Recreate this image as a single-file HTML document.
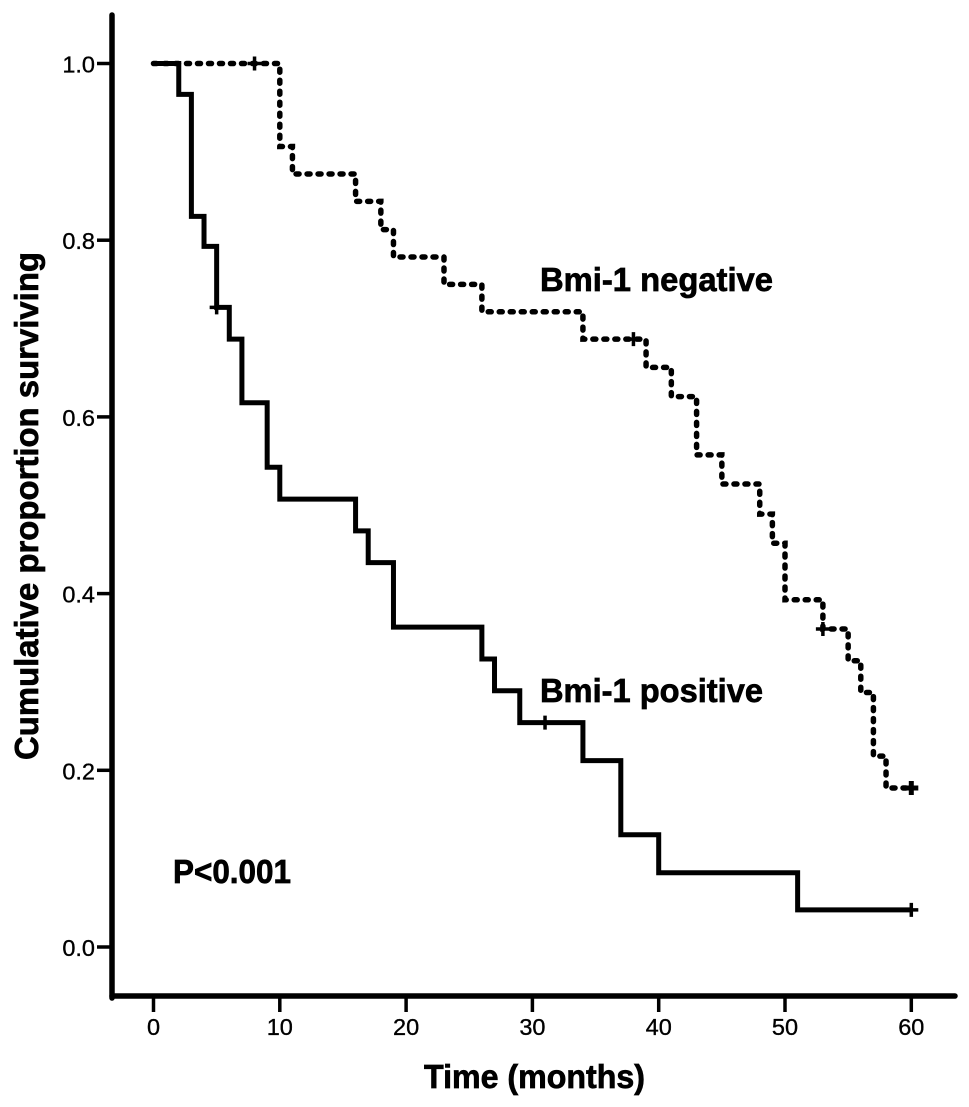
<!DOCTYPE html>
<html lang="en">
<head>
<meta charset="utf-8">
<title>Cumulative survival by Bmi-1 status</title>
<style>
html,body{margin:0;padding:0;background:#fff;}
svg{display:block;}
text{font-family:"Liberation Sans",Arial,sans-serif;fill:#000;stroke:#000;}
.tick-label{font-size:23.5px;stroke-width:0.35px;}
.title{font-size:33px;font-weight:bold;stroke-width:0.7px;}
</style>
</head>
<body>
<svg id="chart" xmlns="http://www.w3.org/2000/svg" width="969" height="1107" viewBox="0 0 969 1107"></svg>
<script>
const xTicks = [0, 10, 20, 30, 40, 50, 60];
const yTicks = [0.0, 0.2, 0.4, 0.6, 0.8, 1.0];
const yTickLabels = ['0.0', '0.2', '0.4', '0.6', '0.8', '1.0'];

const negativeTimes = [0, 10, 11, 16, 18, 19, 23, 26, 34, 39, 41, 43, 45, 48, 49, 50, 53, 55, 56, 57, 58, 60];
const negativeValues = [1.0, 0.906, 0.875, 0.844, 0.812, 0.781, 0.75, 0.719, 0.688, 0.656, 0.623, 0.557, 0.524, 0.49, 0.457, 0.393, 0.36, 0.324, 0.288, 0.216, 0.18, 0.18];
const negativeCensorTimes = [8, 38, 53, 60];
const negativeCensorValues = [1.0, 0.688, 0.36, 0.18];

const positiveTimes = [0, 2, 3, 4, 5, 6, 7, 9, 10, 16, 17, 19, 26, 27, 29, 34, 37, 40, 51, 60];
const positiveValues = [1.0, 0.965, 0.827, 0.793, 0.724, 0.688, 0.616, 0.543, 0.507, 0.471, 0.435, 0.362, 0.326, 0.29, 0.254, 0.211, 0.127, 0.084, 0.042, 0.042];
const positiveCensorTimes = [5, 31, 60];
const positiveCensorValues = [0.724, 0.254, 0.042];

const NS = 'http://www.w3.org/2000/svg';
const svg = document.getElementById('chart');
function xScale(t) { return 153.5 + t * 12.63; }
function yScale(v) { return 947 - v * 883.5; }

function make(tag, attrs, parent) {
  const el = document.createElementNS(NS, tag);
  for (const k in attrs) el.setAttribute(k, attrs[k]);
  (parent || svg).appendChild(el);
  return el;
}
function stepPath(times, values) {
  let d = 'M' + xScale(times[0]) + ' ' + yScale(values[0]);
  for (let i = 1; i < times.length; i++) {
    d += 'H' + xScale(times[i]);
    d += 'V' + yScale(values[i]);
  }
  return d;
}

const bg = make('rect', {x: 0, y: 0, width: 969, height: 1107, fill: '#fff'});



const yAxis = make('line', {x1: 112, y1: 15, x2: 112, y2: 998, stroke: '#000', 'stroke-width': 5.5, 'stroke-linecap': 'round'});



const xAxis = make('line', {x1: 112, y1: 996, x2: 955, y2: 996, stroke: '#000', 'stroke-width': 5.5, 'stroke-linecap': 'round'});



xTicks.forEach(function (t) {
  const tick = make('line', {x1: xScale(t), y1: 998, x2: xScale(t), y2: 1012, stroke: '#000', 'stroke-width': 3.5});
  
  
  const label = make('text', {x: xScale(t), y: 1035, 'text-anchor': 'middle', 'class': 'tick-label'});
  
  
  label.textContent = String(t);
});

yTicks.forEach(function (v, i) {
  const tick = make('line', {x1: 97, y1: yScale(v), x2: 111, y2: yScale(v), stroke: '#000', 'stroke-width': 3.5});
  
  
  const label = make('text', {x: 95, y: yScale(v) + 9, 'text-anchor': 'end', 'class': 'tick-label'});
  
  
  label.textContent = yTickLabels[i];
});

const negativeLine = make('path', {d: stepPath(negativeTimes, negativeValues), fill: 'none', stroke: '#000', 'stroke-width': 5.5, 'stroke-dasharray': '3 8', 'stroke-linecap': 'round'});



const positiveLine = make('path', {d: stepPath(positiveTimes, positiveValues), fill: 'none', stroke: '#000', 'stroke-width': 5, 'stroke-linejoin': 'miter'});



function censorMark(t, v, w) {
  const x = xScale(t);
  const y = yScale(v);
  return 'M' + (x - w) + ' ' + y + 'H' + (x + w) + 'M' + x + ' ' + (y - w) + 'V' + (y + w);
}
negativeCensorTimes.forEach(function (t, i) {
  const mark = make('path', {d: censorMark(t, negativeCensorValues[i], 7), fill: 'none', stroke: '#000', 'stroke-width': (i === 3 ? 5 : 3.5)});
  
  
});
positiveCensorTimes.forEach(function (t, i) {
  const mark = make('path', {d: censorMark(t, positiveCensorValues[i], 7), fill: 'none', stroke: '#000', 'stroke-width': 3.5});
  
  
});

const xTitle = make('text', {x: 424, y: 1088, 'class': 'title', textLength: 221, lengthAdjust: 'spacingAndGlyphs'});


xTitle.textContent = 'Time (months)';

const yTitle = make('text', {x: 0, y: 0, transform: 'translate(38,760) rotate(-90)', 'class': 'title', textLength: 508, lengthAdjust: 'spacingAndGlyphs'});


yTitle.textContent = 'Cumulative proportion surviving';

const negativeLabel = make('text', {x: 540, y: 291, 'class': 'title', textLength: 233, lengthAdjust: 'spacingAndGlyphs'});


negativeLabel.textContent = 'Bmi-1 negative';

const positiveLabel = make('text', {x: 540, y: 702, 'class': 'title', textLength: 223, lengthAdjust: 'spacingAndGlyphs'});


positiveLabel.textContent = 'Bmi-1 positive';

const pValue = make('text', {x: 173, y: 883, 'class': 'title', textLength: 118, lengthAdjust: 'spacingAndGlyphs'});


pValue.textContent = 'P<0.001';
</script>
</body>
</html>
